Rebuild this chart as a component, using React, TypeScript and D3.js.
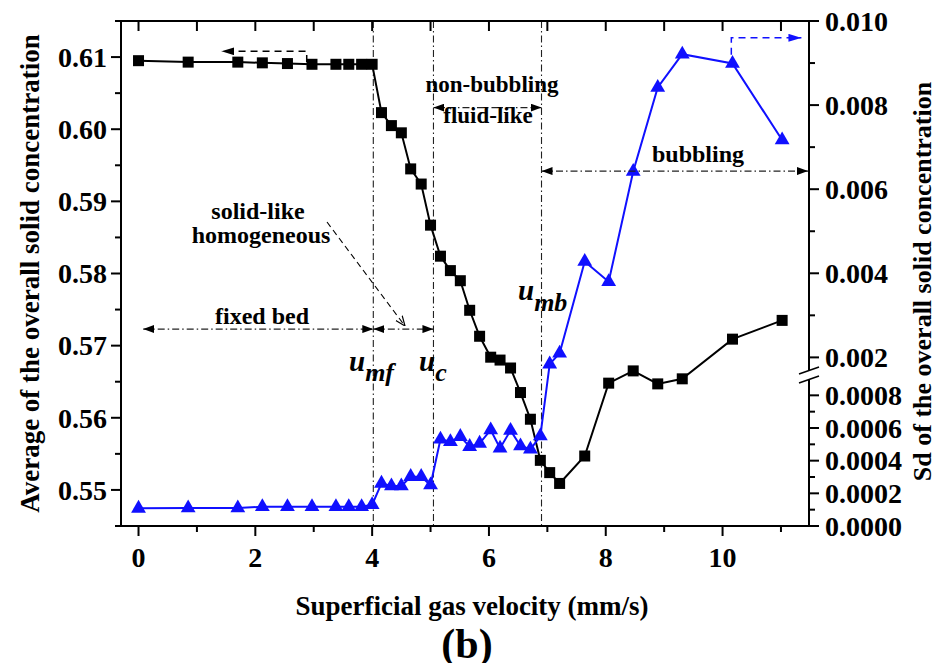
import React from 'react'
import * as d3 from 'd3'

// superficial gas velocity (mm/s), shared by both series
const velocity = [0, 0.85, 1.7, 2.12, 2.55, 2.97, 3.38, 3.6, 3.82, 4.0, 4.16, 4.33, 4.5, 4.66, 4.84, 5.0,
  5.17, 5.34, 5.51, 5.67, 5.84, 6.03, 6.19, 6.37, 6.54, 6.71, 6.88, 7.04, 7.21, 7.64, 8.05, 8.47, 8.89, 9.31, 10.17, 11.02]
// average of the overall solid concentration (left axis)
const avgConc = [0.6095, 0.6093, 0.6093, 0.6092, 0.6091, 0.609, 0.609, 0.609, 0.609, 0.609, 0.6023, 0.6005, 0.5995,
  0.5945, 0.5924, 0.5867, 0.5824, 0.5804, 0.579, 0.5749, 0.5713, 0.5684, 0.568, 0.5669, 0.5635, 0.5598, 0.5541,
  0.5524, 0.5509, 0.5547, 0.5648, 0.5665, 0.5647, 0.5654, 0.5709, 0.5735]
// Sd of the overall solid concentration (right, broken axis)
const sdConc = [0.000108, 0.00011, 0.00011, 0.000118, 0.000118, 0.000118, 0.000118, 0.000118, 0.000118, 0.00013,
  0.000261, 0.000245, 0.000245, 0.000302, 0.000302, 0.000251, 0.000531, 0.000516, 0.000547, 0.000486, 0.000506,
  0.000588, 0.000476, 0.000585, 0.00049, 0.00047, 0.000551, 0.00184, 0.0021, 0.00428, 0.0038, 0.00642, 0.00842,
  0.00921, 0.00899, 0.00717]

const xTicks = [0, 2, 4, 6, 8, 10]
const xMinor = [1, 3, 5, 7, 9, 11]
const leftTicks = [0.55, 0.56, 0.57, 0.58, 0.59, 0.6, 0.61]
const leftMinor = [0.545, 0.555, 0.565, 0.575, 0.585, 0.595, 0.605, 0.615]
const rightUpperTicks = [0.002, 0.004, 0.006, 0.008, 0.01]
const rightUpperMinor = [0.003, 0.005, 0.007, 0.009]
const rightLowerTicks = [0, 0.0002, 0.0004, 0.0006, 0.0008]
const rightLowerMinor = [0.0001, 0.0003, 0.0005, 0.0007]

// regime boundaries
const uMf = 4.02
const uC = 5.05
const uMb = 6.9

const W = 943
const H = 671
const left = 121
const right = 809
const top = 21
const bottom = 526
const font = '"Liberation Serif", "Times New Roman", serif'
const blue = '#1010ff'
const dashDot = '7,3,1.5,3'

const x = d3.scaleLinear().domain([-0.3, 11.48]).range([left, right])
const yL = d3.scaleLinear().domain([0.545, 0.615]).range([bottom, top])
// broken right axis: lower part 0..0.0009, upper part 0.0017..0.010
const yR = d3.scaleLinear().domain([0, 0.0009, 0.0017, 0.01]).range([bottom, 379, 370, top])

const App = () => {
  const pts = velocity.map((v, i) => ({ v, a: avgConc[i], s: sdConc[i] }))
  const avgLine = d3.line<any>().x(d => x(d.v)).y(d => yL(d.a))(pts) || ''
  const sdLine = d3.line<any>().x(d => x(d.v)).y(d => yR(d.s))(pts) || ''
  const tri = d3.symbol().type(d3.symbolTriangle).size(95)() || ''

  const arrowY1 = yL(0.5723)
  const arrowY2 = yL(0.6030)
  const arrowY3 = yL(0.5942)

  return (
    <svg width={W} height={H} style={{ display: 'block', margin: '-8px' }} fontFamily={font} fontWeight="bold">
      <defs>
        <marker id="ah" viewBox="0 0 10 10" refX="10" refY="5" markerWidth="11" markerHeight="8"
          markerUnits="userSpaceOnUse" orient="auto-start-reverse" preserveAspectRatio="none">
          <path d="M0,0 L10,5 L0,10 Z" fill="#000" />
        </marker>
        <marker id="ahb" viewBox="0 0 10 10" refX="10" refY="5" markerWidth="13" markerHeight="8"
          markerUnits="userSpaceOnUse" orient="auto" preserveAspectRatio="none">
          <path d="M0,0 L10,5 L0,10 Z" fill={blue} />
        </marker>
        <marker id="ahk" viewBox="0 0 10 10" refX="10" refY="5" markerWidth="13" markerHeight="8"
          markerUnits="userSpaceOnUse" orient="auto" preserveAspectRatio="none">
          <path d="M0,0 L10,5 L0,10 Z" fill="#000" />
        </marker>
        <marker id="aho" viewBox="0 0 10 10" refX="10" refY="5" markerWidth="10" markerHeight="10"
          markerUnits="userSpaceOnUse" orient="auto">
          <path d="M0,1 L10,5 L0,9" fill="none" stroke="#000" strokeWidth="1.2" />
        </marker>
      </defs>

      {/* regime boundaries */}
      {[uMf, uC, uMb].map(u => (
        <line key={u} x1={x(u)} x2={x(u)} y1={top} y2={bottom} stroke="#222" strokeWidth={1.1} strokeDasharray={dashDot} />
      ))}

      {/* series */}
      <path d={avgLine} fill="none" stroke="#000" strokeWidth={2} />
      {pts.map((p, i) => (
        <rect key={'s' + i} x={x(p.v) - 5.5} y={yL(p.a) - 5.5} width={11} height={11} fill="#000" />
      ))}
      <path d={sdLine} fill="none" stroke={blue} strokeWidth={2} />
      {pts.map((p, i) => (
        <path key={'t' + i} d={tri} transform={`translate(${x(p.v)},${yR(p.s)})`} fill={blue} />
      ))}

      {/* frame and axes */}
      <line x1={left} x2={right} y1={top} y2={top} stroke="#000" strokeWidth={2} />
      <line x1={left} x2={right + 1} y1={bottom} y2={bottom} stroke="#000" strokeWidth={2} />
      <line x1={left} x2={left} y1={top} y2={bottom} stroke="#000" strokeWidth={2} />
      <line x1={right} x2={right} y1={top - 1} y2={yR(0.0017)} stroke="#000" strokeWidth={2} />
      <line x1={right} x2={right} y1={yR(0.0009)} y2={bottom + 1} stroke="#000" strokeWidth={2} />
      <line x1={799} x2={819} y1={yR(0.0017) + 4} y2={yR(0.0017) - 3} stroke="#000" strokeWidth={1.5} />
      <line x1={799} x2={819} y1={yR(0.0009) + 4} y2={yR(0.0009) - 3} stroke="#000" strokeWidth={1.5} />

      {xTicks.map(t => (
        <g key={'xt' + t}>
          <line x1={x(t)} x2={x(t)} y1={bottom} y2={bottom + 10} stroke="#000" strokeWidth={2} />
          <line x1={x(t)} x2={x(t)} y1={top} y2={top + 10} stroke="#000" strokeWidth={2} />
          <text x={x(t)} y={567} fontSize={28} textAnchor="middle">{t}</text>
        </g>
      ))}
      {xMinor.map(t => (
        <g key={'xm' + t}>
          <line x1={x(t)} x2={x(t)} y1={bottom} y2={bottom + 6} stroke="#000" strokeWidth={2} />
          <line x1={x(t)} x2={x(t)} y1={top} y2={top + 10} stroke="#000" strokeWidth={2} />
        </g>
      ))}

      {leftTicks.map(t => (
        <g key={'lt' + t}>
          <line x1={left - 10} x2={left} y1={yL(t)} y2={yL(t)} stroke="#000" strokeWidth={2} />
          <text x={107} y={yL(t)} dy="0.35em" fontSize={28} textAnchor="end">{t.toFixed(2)}</text>
        </g>
      ))}
      {leftMinor.map(t => (
        <line key={'lm' + t} x1={left - 6} x2={left} y1={yL(t)} y2={yL(t)} stroke="#000" strokeWidth={2} />
      ))}

      {rightUpperTicks.map(t => (
        <g key={'ru' + t}>
          <line x1={right} x2={right + 10} y1={yR(t)} y2={yR(t)} stroke="#000" strokeWidth={2} />
          <text x={825} y={yR(t)} dy="0.35em" fontSize={28}>{t.toFixed(3)}</text>
        </g>
      ))}
      {rightUpperMinor.map(t => (
        <line key={'rum' + t} x1={right} x2={right + 6} y1={yR(t)} y2={yR(t)} stroke="#000" strokeWidth={2} />
      ))}
      {rightLowerTicks.map(t => (
        <g key={'rl' + t}>
          <line x1={right} x2={right + 10} y1={yR(t)} y2={yR(t)} stroke="#000" strokeWidth={2} />
          <text x={825} y={yR(t)} dy="0.35em" fontSize={28}>{t.toFixed(4)}</text>
        </g>
      ))}
      {rightLowerMinor.map(t => (
        <line key={'rlm' + t} x1={right} x2={right + 6} y1={yR(t)} y2={yR(t)} stroke="#000" strokeWidth={2} />
      ))}

      {/* axis titles */}
      <text transform={`translate(30,${(top + bottom) / 2}) rotate(-90)`} dy="0.35em" fontSize={27} textAnchor="middle">
        Average of the overall solid concentration
      </text>
      <text transform={`translate(922,${(top + bottom) / 2 + 8}) rotate(-90)`} dy="0.35em" fontSize={26} textAnchor="middle">
        Sd of the overall solid concentration
      </text>
      <text x={472} y={615} fontSize={27} textAnchor="middle">Superficial gas velocity (mm/s)</text>
      <text x={467} y={658} fontSize={42} textAnchor="middle">(b)</text>

      {/* series indicators */}
      <path d={`M${x(2.88)},${yL(0.6093)} V${yL(0.6108)} H${x(1.42)}`} fill="none" stroke="#000" strokeWidth={1.5}
        strokeDasharray="7,5" markerEnd="url(#ahk)" />
      <path d={`M${x(10.15)},${yR(0.0092)} V${yR(0.0096)} H${x(11.35)}`} fill="none" stroke={blue} strokeWidth={1.5}
        strokeDasharray="7,5" markerEnd="url(#ahb)" />

      {/* regime annotations */}
      <line x1={x(0.08)} x2={x(uMf)} y1={arrowY1} y2={arrowY1} stroke="#222" strokeWidth={1.2} strokeDasharray={dashDot}
        markerStart="url(#ah)" markerEnd="url(#ah)" />
      <line x1={x(uMf)} x2={x(uC)} y1={arrowY1} y2={arrowY1} stroke="#222" strokeWidth={1.2} strokeDasharray={dashDot}
        markerStart="url(#ah)" markerEnd="url(#ah)" />
      <line x1={x(uC)} x2={x(uMb)} y1={arrowY2} y2={arrowY2} stroke="#222" strokeWidth={1.2} strokeDasharray={dashDot}
        markerStart="url(#ah)" markerEnd="url(#ah)" />
      <line x1={x(uMb)} x2={right - 1} y1={arrowY3} y2={arrowY3} stroke="#222" strokeWidth={1.2} strokeDasharray={dashDot}
        markerStart="url(#ah)" markerEnd="url(#ah)" />
      <line x1={327} y1={222} x2={405} y2={326} stroke="#000" strokeWidth={1.1} strokeDasharray="6,4" markerEnd="url(#aho)" />

      <text x={262} y={324} fontSize={24} textAnchor="middle">fixed bed</text>
      <text x={258} y={219} fontSize={24} textAnchor="middle">solid-like</text>
      <text x={261} y={243} fontSize={24} textAnchor="middle">homogeneous</text>
      <text x={492} y={92} fontSize={23} textAnchor="middle">non-bubbling</text>
      <text x={488} y={123} fontSize={23} textAnchor="middle">fluid-like</text>
      <text x={698} y={162} fontSize={24} textAnchor="middle">bubbling</text>

      <g fontStyle="italic" fontSize={29}>
        <text x={349} y={371}>u<tspan fontSize={26} dy={10}>mf</tspan></text>
        <text x={419} y={371}>u<tspan fontSize={26} dy={10}>c</tspan></text>
        <text x={518} y={300}>u<tspan fontSize={26} dy={11}>mb</tspan></text>
      </g>
    </svg>
  )
}

export default App
